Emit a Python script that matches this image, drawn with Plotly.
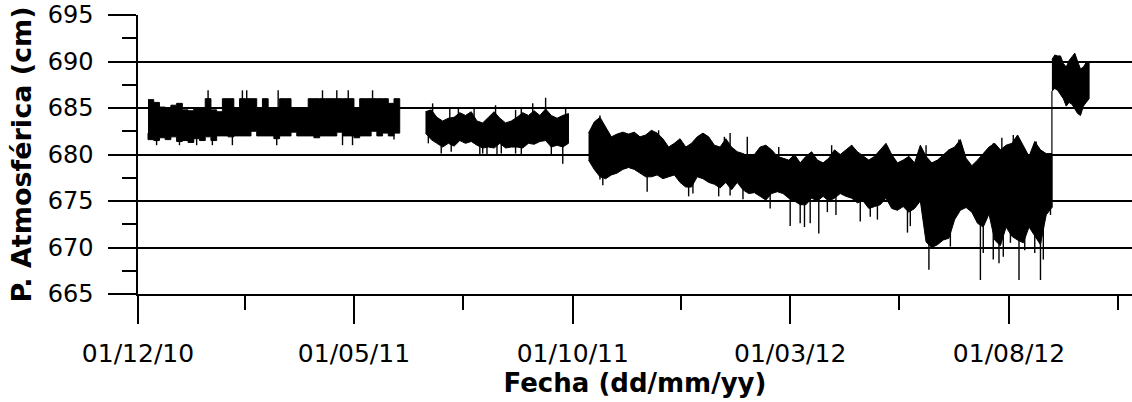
import numpy as np
import pandas as pd
import plotly.graph_objects as go

# Atmospheric pressure record (cm). Each logging period is stored as the
# upper and lower edge of the dense band of readings, one pair per sampling
# step; isolated extreme readings are listed separately as spikes.

# Period 1: Dec 2010 - May 2011, every 4 days
p1_start, p1_step = "2010-12-08", 4
p1_high = [685.9, 685.6, 685.1, 685.0, 685.3, 685.5, 684.8, 684.7, 685.0, 684.9,
           686.0, 684.8, 684.6, 686.0, 686.0, 685.0, 686.0, 686.0, 686.0, 685.0,
           686.0, 685.0, 685.0, 686.0, 686.0, 685.0, 685.0, 685.0, 686.0, 686.0,
           686.0, 686.0, 686.0, 686.0, 686.0, 686.0, 685.0, 686.0, 686.0, 686.0,
           686.0, 686.0, 685.5, 686.0, 685.6]
p1_low = [682.3, 681.6, 681.5, 681.8, 681.6, 681.9, 681.4, 681.5, 681.3, 681.7,
          681.5, 681.9, 681.5, 682.0, 682.0, 681.9, 682.0, 682.0, 682.0, 682.5,
          682.0, 682.0, 682.0, 681.7, 682.0, 682.0, 682.4, 682.0, 682.0, 682.0,
          681.8, 682.0, 682.0, 682.0, 682.4, 682.0, 682.0, 681.8, 682.0, 682.0,
          682.5, 682.0, 682.3, 682.0, 682.3]

# Period 2: Jun - Sep 2011, every 4 days
p2_start, p2_step = "2011-06-20", 4
p2_high = [684.6, 684.8, 684.0, 683.6, 683.9, 684.0, 684.5, 684.2, 684.6, 683.6,
           683.4, 684.0, 684.6, 683.9, 683.4, 683.6, 684.0, 684.5, 684.2, 684.7,
           684.2, 684.9, 684.2, 683.9, 684.2, 684.4]
p2_low = [682.3, 681.6, 681.2, 680.8, 681.2, 680.9, 681.5, 681.2, 681.4, 681.0,
          680.7, 680.8, 680.7, 681.2, 680.7, 680.8, 680.8, 680.7, 681.2, 681.1,
          681.4, 681.5, 680.8, 681.0, 680.8, 681.2]

# Period 3: Oct 2011 - Aug 2012, every 4 days
p3_start, p3_step = "2011-10-12", 4
p3_high = [682.3, 683.5, 684.0, 683.0, 681.9, 682.2, 682.4, 682.2, 682.4, 681.9,
           682.1, 682.6, 682.3, 681.7, 680.8, 681.2, 681.7, 680.8, 681.2, 681.9,
           682.3, 681.9, 681.0, 680.8, 681.7, 680.8, 680.3, 680.1, 679.8,
           680.0, 680.8, 681.0, 680.5, 679.8, 679.6, 679.4, 680.0, 679.1, 679.8,
           680.3, 679.4, 679.1, 679.6, 680.5, 680.0, 680.5, 681.0, 680.3, 679.8,
           679.4, 679.8, 680.5, 681.2, 680.0, 679.1, 679.4, 679.8, 679.1, 681.0,
           679.8, 679.1, 679.4, 680.0, 680.5, 680.8, 681.6, 679.6, 678.8, 679.4,
           680.1, 680.8, 681.2, 680.5, 681.0, 681.2, 682.1, 681.0, 679.8, 681.4,
           680.5, 680.1, 680.1]
p3_low = [679.4, 678.4, 677.6, 677.4, 677.8, 678.0, 678.4, 678.6, 678.4, 678.0,
          677.6, 677.6, 677.8, 677.4, 677.6, 677.8, 677.0, 676.5, 676.5, 677.6,
          677.4, 677.0, 676.8, 676.4, 677.0, 676.2, 677.0, 676.2, 675.8,
          675.9, 675.5, 675.1, 675.8, 676.0, 675.8, 675.3, 675.0, 674.6, 674.6,
          675.3, 675.0, 675.5, 675.0, 675.3, 675.8, 675.5, 675.3, 674.8, 675.0,
          674.2, 674.4, 674.6, 675.3, 674.2, 674.0, 674.4, 673.8, 674.2, 675.0,
          670.6, 670.0, 670.3, 670.8, 671.0, 673.0, 674.0, 674.3, 673.8, 672.6,
          672.2, 673.6, 670.8, 670.2, 672.2, 671.2, 670.8, 670.5, 672.2, 671.2,
          670.3, 673.5, 674.3]

# Period 4: Sep 2012, every 2 days
p4_start, p4_step = "2012-08-31", 2
p4_high = [690.2, 690.7, 690.6, 690.6, 689.8, 689.4, 690.1, 690.5, 690.9, 690.0,
           689.2, 689.4, 689.9, 690.0]
p4_low = [686.8, 687.1, 686.9, 686.5, 686.0, 685.2, 685.6, 685.4, 684.9, 684.4,
          684.2, 685.2, 685.6, 686.0]

# Isolated extreme readings
spike_dates = [
    # period 1, highs
    "2011-01-19", "2011-02-12", "2011-02-15", "2011-03-09", "2011-04-09",
    "2011-04-19", "2011-04-27", "2011-05-14",
    # period 1, lows
    "2010-12-14", "2010-12-30", "2011-01-11", "2011-01-22", "2011-02-05",
    "2011-03-08", "2011-04-23", "2011-04-30", "2011-05-29",
    # period 2, highs
    "2011-06-25", "2011-07-07", "2011-07-13", "2011-07-24", "2011-08-08",
    "2011-08-22", "2011-08-26", "2011-09-03", "2011-09-12", "2011-09-26",
    # period 2, lows
    "2011-06-22", "2011-07-01", "2011-07-08", "2011-07-28", "2011-07-30",
    "2011-08-02", "2011-08-09", "2011-08-12", "2011-08-22", "2011-08-26",
    "2011-09-16", "2011-09-24",
    # period 3, highs
    "2011-10-20", "2011-11-13", "2011-11-30", "2011-12-27", "2012-01-15",
    "2012-01-19", "2012-01-31", "2012-02-22", "2012-03-30", "2012-04-13",
    "2012-05-08", "2012-06-04", "2012-06-20", "2012-06-27", "2012-07-21",
    "2012-07-27", "2012-08-04", "2012-08-20",
    # period 3, lows
    "2011-10-20", "2011-10-22", "2011-11-22", "2011-12-21", "2011-12-24",
    "2012-01-11", "2012-01-19", "2012-01-28", "2012-02-16", "2012-03-01",
    "2012-03-08", "2012-03-11", "2012-03-15", "2012-03-21", "2012-03-27",
    "2012-04-02", "2012-04-19", "2012-04-26", "2012-05-01", "2012-05-22",
    "2012-05-24", "2012-06-06", "2012-06-21", "2012-07-12", "2012-07-14",
    "2012-07-21", "2012-07-25", "2012-07-28", "2012-08-02", "2012-08-08",
    "2012-08-12", "2012-08-19", "2012-08-23", "2012-08-25", "2012-08-30",
]
spike_values = [
    686.9, 686.9, 686.9, 686.9, 686.9, 686.9, 686.9, 686.9,
    681.0, 681.0, 681.0, 681.0, 681.0, 681.0, 681.0, 681.0, 681.6,
    685.5, 684.9, 685.0, 685.1, 685.3, 684.8, 685.1, 685.5, 686.1, 685.0,
    681.2, 680.1, 680.3, 680.0, 680.1, 680.0, 680.0, 680.1, 680.1, 680.0,
    680.0, 679.0,
    684.2, 682.4, 682.6, 681.7, 681.9, 682.3, 681.9, 680.8, 681.0, 681.0,
    680.8, 681.0, 680.5, 681.6, 681.2, 681.8, 682.1, 681.4,
    677.3, 676.7, 676.0, 675.5, 675.8, 675.5, 675.6, 675.2, 674.2, 672.3,
    672.6, 672.2, 672.6, 671.5, 673.8, 673.5, 672.8, 673.3, 673.0, 671.6,
    672.3, 667.6, 670.1, 666.5, 669.4, 668.7, 668.3, 669.0, 670.5, 666.5,
    669.7, 669.4, 666.5, 668.7, 673.5,
]

x_tick_vals = ["2010-12-01", "2011-05-01", "2011-10-01", "2012-03-01", "2012-08-01"]
x_tick_text = ["01/12/10", "01/05/11", "01/10/11", "01/03/12", "01/08/12"]
x_minor_vals = ["2011-02-14", "2011-07-16", "2011-12-16", "2012-05-16", "2012-10-16"]
y_tick_vals = [665, 670, 675, 680, 685, 690, 695]
y_minor_vals = [667.5, 672.5, 677.5, 682.5, 687.5, 692.5]

periods = [
    (p1_start, p1_step, p1_high, p1_low, "hv"),
    (p2_start, p2_step, p2_high, p2_low, "linear"),
    (p3_start, p3_step, p3_high, p3_low, "linear"),
    (p4_start, p4_step, p4_high, p4_low, "linear"),
]

fig = go.Figure()
ink = "black"
mid_t, mid_v = [], []
series = []
for start, step, high, low, shape in periods:
    dates = pd.date_range(start, periods=len(high), freq=f"{step}D")
    series.append((dates, high, low))
    xs = list(dates) + list(dates[::-1])
    ys = list(high) + list(low[::-1])
    fig.add_trace(go.Scatter(
        x=xs, y=ys, mode="lines", fill="toself", fillcolor=ink,
        line=dict(color=ink, width=1, shape=shape), hoverinfo="skip",
        showlegend=False))
    mid_t.extend(dates.asi8.tolist())
    mid_v.extend(((np.array(high) + np.array(low)) / 2).tolist())

# jump between periods 3 and 4
d3, h3, l3 = series[2]
d4, h4, l4 = series[3]
fig.add_trace(go.Scatter(x=[d3[-1], d4[0]], y=[l3[-1], l4[0]], mode="lines",
                         line=dict(color=ink, width=1.2), showlegend=False,
                         hoverinfo="skip"))

# spikes drawn from inside the band out to the extreme reading
sd = pd.to_datetime(spike_dates)
anchor = np.interp(sd.asi8, np.array(mid_t), np.array(mid_v))
sx, sy = [], []
for d, v, a in zip(sd, spike_values, anchor):
    sx += [d, d, None]
    sy += [a, v, None]
fig.add_trace(go.Scatter(x=sx, y=sy, mode="lines", line=dict(color=ink, width=1.4),
                         showlegend=False, hoverinfo="skip"))

fig.update_layout(
    width=1132, height=402,
    margin=dict(l=138, r=0, t=15, b=108),
    paper_bgcolor="white", plot_bgcolor="white",
    showlegend=False,
)
fig.update_xaxes(
    type="date", range=["2010-12-01", "2012-10-26"],
    tickmode="array", tickvals=x_tick_vals, ticktext=x_tick_text,
    ticks="outside", ticklen=28, tickwidth=1.5, tickcolor=ink,
    showgrid=False, zeroline=False,
    showline=True, linecolor=ink, linewidth=1.5,
    tickfont=dict(family="DejaVu Sans", size=25, color=ink),
    ticklabelstandoff=8,
    minor=dict(tickmode="array", tickvals=x_minor_vals, ticks="outside",
               ticklen=14, tickwidth=1.5, tickcolor=ink, showgrid=False),
    title=dict(text="Fecha (dd/mm/yy)", standoff=4,
               font=dict(family="DejaVu Sans", size=26, color=ink, weight="bold")),
)
fig.update_yaxes(
    range=[665, 695], tickmode="array", tickvals=y_tick_vals,
    ticks="outside", ticklen=28, tickwidth=1.5, tickcolor=ink,
    showgrid=True, gridcolor=ink, gridwidth=1.5, zeroline=False,
    showline=True, linecolor=ink, linewidth=1.5,
    tickfont=dict(family="DejaVu Sans", size=24, color=ink), ticklabelstandoff=10,
    minor=dict(tickmode="array", tickvals=y_minor_vals, ticks="outside",
               ticklen=14, tickwidth=1.5, tickcolor=ink, showgrid=False),
    title=dict(text="P. Atmosférica (cm)", standoff=8,
               font=dict(family="DejaVu Sans", size=27, color=ink, weight="bold")),
)

fig.write_html("out.html")
